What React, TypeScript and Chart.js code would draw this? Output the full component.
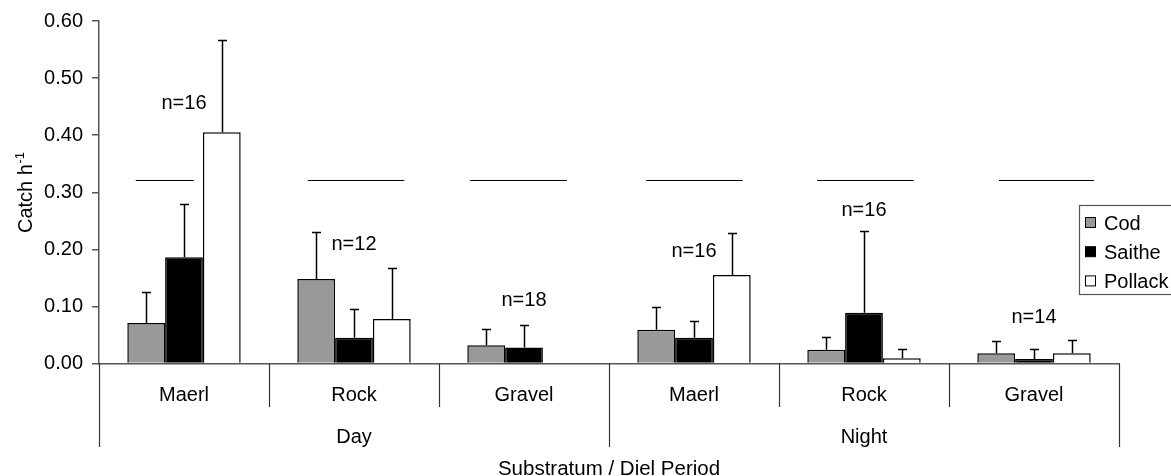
import React, { useEffect, useRef } from 'react';
import { Chart, registerables } from 'chart.js';

Chart.register(...registerables);

const FONT = '"Liberation Sans", Arial, Helvetica, sans-serif';

const categories = ['Maerl', 'Rock', 'Gravel', 'Maerl', 'Rock', 'Gravel'];
const periods = ['Day', 'Night'];
const periodSize = 3;

const seriesNames = ['Cod', 'Saithe', 'Pollack'];
const seriesColors = ['#999999', '#000000', '#ffffff'];

const cod = [0.071, 0.148, 0.032, 0.059, 0.024, 0.018];
const saithe = [0.186, 0.045, 0.028, 0.045, 0.089, 0.008];
const pollack = [0.405, 0.078, 0.0, 0.155, 0.009, 0.018];

const codErr = [0.055, 0.082, 0.028, 0.040, 0.022, 0.021];
const saitheErr = [0.093, 0.05, 0.039, 0.030, 0.143, 0.017];
const pollackErr = [0.161, 0.089, 0.0, 0.074, 0.017, 0.024];

const nLabels = ['n=16', 'n=12', 'n=18', 'n=16', 'n=16', 'n=14'];
const nLabelY = [0.455, 0.209, 0.111, 0.197, 0.268, 0.08];

const refLineValue = 0.322;
const refLineStart = [-0.284, -0.272, -0.318, -0.282, -0.276, -0.206];
const refLineEnd = [0.057, 0.296, 0.253, 0.286, 0.292, 0.353];

const yTicks = [0, 0.1, 0.2, 0.3, 0.4, 0.5, 0.6];

const values = [cod, saithe, pollack];
const errors = [codErr, saitheErr, pollackErr];

const annotations = {
  id: 'annotations',
  afterDatasetsDraw(chart: any) {
    const { ctx, scales, chartArea } = chart;
    const x = scales.x;
    const y = scales.y;
    const catW = x.getPixelForValue(1) - x.getPixelForValue(0);
    ctx.save();

    // error bars
    ctx.strokeStyle = '#000';
    ctx.lineWidth = 1.5;
    values.forEach((vals, di) => {
      const meta = chart.getDatasetMeta(di);
      meta.data.forEach((bar: any, i: number) => {
        const e = errors[di][i];
        if (!e) return;
        const xc = Math.round(bar.x) + 0.5;
        const y0 = y.getPixelForValue(vals[i]);
        const y1 = Math.round(y.getPixelForValue(vals[i] + e)) + 0.5;
        ctx.beginPath();
        ctx.moveTo(xc, y0);
        ctx.lineTo(xc, y1);
        ctx.moveTo(xc - 4.5, y1);
        ctx.lineTo(xc + 4.5, y1);
        ctx.stroke();
      });
    });

    // reference lines
    ctx.lineWidth = 1.2;
    const ly = Math.round(y.getPixelForValue(refLineValue)) + 0.5;
    categories.forEach((_, i) => {
      const c = x.getPixelForValue(i);
      ctx.beginPath();
      ctx.moveTo(c + refLineStart[i] * catW, ly);
      ctx.lineTo(c + refLineEnd[i] * catW, ly);
      ctx.stroke();
    });

    // n labels
    ctx.fillStyle = '#000';
    ctx.font = `20px ${FONT}`;
    ctx.textAlign = 'center';
    ctx.textBaseline = 'middle';
    nLabels.forEach((t, i) => {
      ctx.fillText(t, x.getPixelForValue(i), y.getPixelForValue(nLabelY[i]));
    });

    // x axis category labels and separators
    const bottom = chartArea.bottom;
    ctx.strokeStyle = '#333';
    ctx.lineWidth = 1.2;
    for (let i = 0; i <= categories.length; i++) {
      const bx = Math.round(x.getPixelForValue(i) - catW / 2) + 0.5;
      const outer = i % periodSize === 0;
      ctx.beginPath();
      ctx.moveTo(bx, bottom);
      ctx.lineTo(bx, outer ? bottom + 83.5 : bottom + 43.5);
      ctx.stroke();
    }
    ctx.font = `20px ${FONT}`;
    ctx.textBaseline = 'alphabetic';
    categories.forEach((c, i) => {
      ctx.fillText(c, x.getPixelForValue(i), bottom + 37.5);
    });
    periods.forEach((p, pi) => {
      const a = x.getPixelForValue(pi * periodSize);
      const b = x.getPixelForValue(pi * periodSize + periodSize - 1);
      ctx.fillText(p, (a + b) / 2, bottom + 79.5);
    });
    ctx.font = `20.5px ${FONT}`;
    ctx.fillText('Substratum / Diel Period', (chartArea.left + chartArea.right) / 2, 475);

    // y axis title
    ctx.save();
    ctx.translate(31.5, 233);
    ctx.rotate(-Math.PI / 2);
    ctx.textAlign = 'left';
    ctx.font = `20px ${FONT}`;
    const main = 'Catch h';
    ctx.fillText(main, 0, 0);
    const w = ctx.measureText(main).width;
    ctx.font = `13px ${FONT}`;
    ctx.fillText('-1', w + 0.5, -8);
    ctx.restore();

    // legend
    const lx = 1079.5;
    const lt = 205.5;
    const lb = 294.5;
    ctx.fillStyle = '#fff';
    ctx.fillRect(lx, lt, 120, lb - lt);
    ctx.strokeStyle = '#555';
    ctx.lineWidth = 1.2;
    ctx.strokeRect(lx, lt, 120, lb - lt);
    ctx.font = `20px ${FONT}`;
    ctx.textAlign = 'left';
    ctx.textBaseline = 'alphabetic';
    seriesNames.forEach((n, i) => {
      const base = 229.5 + i * 29.2;
      const sy = base - 12;
      ctx.fillStyle = seriesColors[i];
      ctx.fillRect(1085.5, sy, 10, 10);
      ctx.strokeStyle = '#000';
      ctx.lineWidth = 1;
      ctx.strokeRect(1085.5, sy, 10, 10);
      ctx.fillStyle = '#000';
      ctx.fillText(n, 1104, base);
    });

    ctx.restore();
  },
};

export default function App() {
  const ref = useRef<HTMLCanvasElement>(null);
  useEffect(() => {
    const canvas = ref.current;
    if (!canvas) return;
    const chart = new Chart(canvas, {
      type: 'bar',
      data: {
        labels: categories,
        datasets: seriesNames.map((name, i) => ({
          label: name,
          data: values[i],
          backgroundColor: seriesColors[i],
          borderColor: '#000',
          borderWidth: 1.5,
          borderSkipped: 'bottom' as const,
          categoryPercentage: 0.667,
          barPercentage: 1,
        })),
      },
      options: {
        animation: false,
        responsive: true,
        maintainAspectRatio: false,
        layout: { padding: { top: 20, right: 52, bottom: 0, left: 0 } },
        plugins: {
          legend: { display: false },
          tooltip: { enabled: false },
        },
        scales: {
          x: {
            offset: true,
            grid: { display: false },
            ticks: { display: false },
            border: { display: true, color: '#555', width: 1.5 },
            afterFit: (s: any) => {
              s.height = 112.5;
            },
          },
          y: {
            min: 0,
            max: 0.6,
            afterBuildTicks: (s: any) => {
              s.ticks = yTicks.map((v) => ({ value: v }));
            },
            ticks: {
              callback: (v: any) => Number(v).toFixed(2),
              font: { family: FONT, size: 20 },
              color: '#000',
              padding: 9,
            },
            grid: { drawOnChartArea: false, tickLength: 7, color: '#555', lineWidth: 1.5 },
            border: { display: true, color: '#555', width: 1.5 },
            afterFit: (s: any) => {
              s.width = 99;
            },
          },
        },
      },
      plugins: [annotations],
    });
    return () => chart.destroy();
  }, []);
  return (
    <div style={{ position: 'absolute', left: 0, top: 0, width: 1171, height: 476, background: '#fff' }}>
      <canvas ref={ref} />
    </div>
  );
}
